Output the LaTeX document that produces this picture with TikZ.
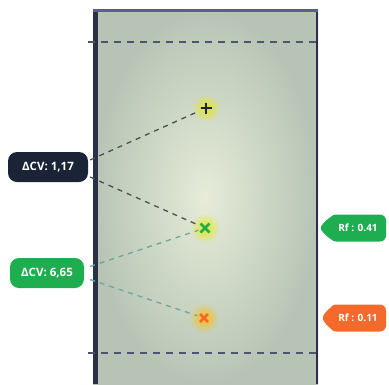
\documentclass[tikz,border=0pt]{standalone}
\usepackage{fontspec}
\setsansfont{Open Sans}
\usepackage{tikz}
\usetikzlibrary{
	arrows.meta,
	fadings,
	positioning,
}
\definecolor{navy}{HTML}{1B2437}
\definecolor{cvgreen}{HTML}{1FAE4F}
\definecolor{rforange}{HTML}{F36A2C}
\definecolor{plateedge}{HTML}{2A3048}
\definecolor{platetop}{HTML}{5A5E8E}
\definecolor{platemid}{HTML}{E6ECD8}
\definecolor{plateout}{HTML}{B7C4B5}
\definecolor{frontline}{HTML}{4A5570}
\definecolor{linkdark}{HTML}{4A5050}
\definecolor{linkteal}{HTML}{6AA89A}
\tikzfading[name=glowfade, inner color=transparent!0, outer color=transparent!100]
\tikzset{pill label/.style={
	rounded corners=9pt,
	text=white,
	font=\sffamily\bfseries\fontsize{11.5}{12}\selectfont,
	minimum width=80pt,
	minimum height=30pt,
	inner sep=0pt,
}}
\tikzset{tag label/.style={
	rounded corners=6pt,
	text=white,
	font=\sffamily\bfseries\fontsize{10}{11}\selectfont,
	minimum width=56pt,
	minimum height=27pt,
	inner sep=0pt,
}}
\tikzset{link/.style={
	dash pattern=on 5pt off 5pt,
	line width=1.3pt,
	shorten >=7pt,
}}
\tikzset{glow/.style={
	path fading=glowfade,
	fill opacity=0.9,
}}

\begin{document}
\begin{tikzpicture}[x=1pt,y=-1pt]

\useasboundingbox[fill=white] (0,0) rectangle (389,384);

\shade[inner color=platemid, outer color=plateout] (93,10) rectangle (318,384);
\fill[plateedge] (93,10) rectangle (97.5,384);
\fill[plateedge] (315.5,10) rectangle (318,384);
\fill[platetop] (93,9) rectangle (318,12);

\foreach \y in {42,353}
\draw[frontline, line width=2pt, dash pattern=on 7pt off 6pt] (88,\y) -- (321,\y);

\coordinate (spotA) at (206,108);
\coordinate (spotB) at (205,228);
\coordinate (spotC) at (204,318);

\fill[yellow!90!green, glow] (spotA) circle (14);
\fill[yellow!90!green, glow] (spotB) circle (15);
\fill[orange!50!yellow, glow] (spotC) circle (15);

\draw[navy, line width=2.6pt] (spotA) +(-5.5,0) -- +(5.5,0) (spotA) +(0,-5.5) -- +(0,5.5);
\draw[cvgreen, line width=2.6pt] (spotB) +(-4.5,-4.5) -- +(4.5,4.5) (spotB) +(-4.5,4.5) -- +(4.5,-4.5);
\draw[rforange, line width=2.6pt] (spotC) +(-4,-4) -- +(4,4) (spotC) +(-4,4) -- +(4,-4);

\node(cvA)[pill label, fill=navy] at (48,167) {ΔCV: 1,17};
\node(cvB)[pill label, fill=cvgreen, minimum width=74pt] at (47,273) {ΔCV: 6,65};

\node(rfB)[tag label, fill=cvgreen] at (358,228) {Rf : 0.41};
\node(rfC)[tag label, fill=rforange] at (358,318) {Rf : 0.11};
\coordinate (tipB) at (320,228);
\coordinate (tipC) at (322,318);
\fill[cvgreen, rounded corners=2pt] ([xshift=6pt]rfB.north west) to[bend right=15] (tipB) to[bend right=15] ([xshift=6pt]rfB.south west) -- cycle;
\fill[rforange, rounded corners=2pt] ([xshift=6pt]rfC.north west) to[bend right=15] (tipC) to[bend right=15] ([xshift=6pt]rfC.south west) -- cycle;

\draw[link, linkdark] ([xshift=2pt]cvA.10) -- (spotA);
\draw[link, linkdark] ([xshift=2pt]cvA.-14) -- (spotB);
\draw[link, linkteal] ([xshift=6pt]cvB.10) -- (spotB);
\draw[link, linkteal] ([xshift=6pt]cvB.-10) -- (spotC);

\end{tikzpicture}
\end{document}
